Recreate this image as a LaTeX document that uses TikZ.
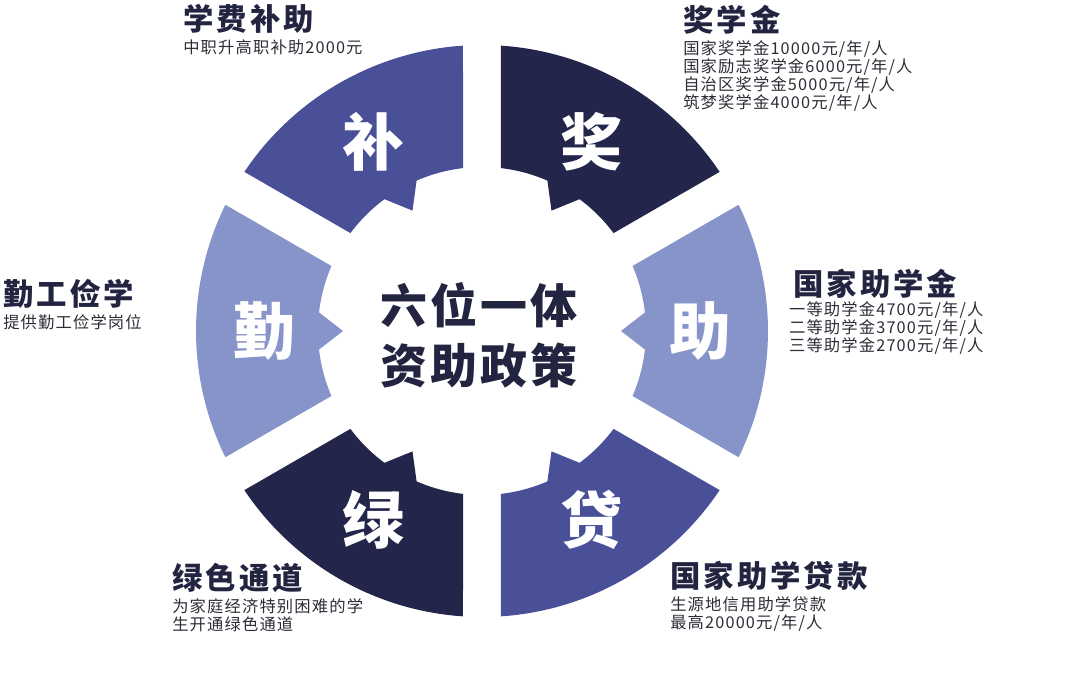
\documentclass[tikz,border=0pt]{standalone}
\usepackage{fontspec}
\usetikzlibrary{positioning}
\usepackage{xcolor}
\newfontfamily\cjk{Noto Sans CJK SC}
\newfontfamily\cjkhub[LetterSpace=7]{Noto Sans CJK SC}
\newfontfamily\cjkwide[LetterSpace=10]{Noto Sans CJK SC}
\newfontfamily\cjksub[LetterSpace=7]{Noto Sans CJK SC}
\definecolor{ringnavy}{RGB}{35,38,74}
\definecolor{ringblue}{RGB}{73,80,152}
\definecolor{ringlight}{RGB}{134,148,201}
\definecolor{inknavy}{RGB}{34,36,64}
\definecolor{inkgray}{RGB}{45,45,55}
\tikzset{
    seg/.style={
        fill=#1,draw=none
    },
    bigchar/.style={
        text=white,inner sep=0pt,
        font=\cjk\bfseries\fontsize{44pt}{44pt}\selectfont
    },
    hub/.style={
        text=inknavy,align=center,inner sep=0pt,
        font=\cjkhub\bfseries\fontsize{33.4pt}{42.7pt}\selectfont
    },
    headline/.style={
        anchor=west,inner sep=0pt,text=inknavy,
        font=\cjkwide\bfseries\fontsize{21.6pt}{24pt}\selectfont
    },
    detail/.style={
        align=left,inner sep=0pt,text=inkgray,
        font=\cjksub\fontsize{11.6pt}{12.8pt}\selectfont
    }
}

\begin{document}
\begin{tikzpicture}[x=0.025cm,y=0.025cm]

\useasboundingbox (-482,-366) rectangle (598,331);

% ring of six segments, each with a small pointer toward the hub
\foreach \m/\col/\ch/\nm in {120/ringblue/补/bu, 60/ringnavy/奖/jiang,
    0/ringlight/助/zhu, -60/ringblue/贷/dai, -120/ringnavy/绿/lv,
    180/ringlight/勤/qin}{
  \fill[seg=\col] ({\m+26.19}:286)
    arc[start angle=\m+26.19, end angle=\m-26.19, radius=286]
    -- ({\m-23.35}:164)
    arc[start angle=\m-23.35, end angle=\m-6.5, radius=164]
    -- (\m:139) -- ({\m+6.5}:164)
    arc[start angle=\m+6.5, end angle=\m+23.35, radius=164]
    -- cycle;
  \node[bigchar] (\nm) at (\m:218) {\ch};
}

\node[hub] (center) at (-3,-4) {六位一体\\资助政策};

% labels round the ring
\node[headline] (t-bu) at (-299,312) {学费补助};
\node[detail,below right=4pt and 0pt of t-bu.south west]
(d-bu){中职升高职补助2000元};

\node[headline] (t-jiang) at (201,311) {奖学金};
\node[detail,below right=4pt and 0pt of t-jiang.south west]
(d-jiang){国家奖学金10000元/年/人\\国家励志奖学金6000元/年/人\\
自治区奖学金5000元/年/人\\筑梦奖学金4000元/年/人};

\node[headline] (t-zhu) at (311,47) {国家助学金};
\node[detail,below right=2pt and -3pt of t-zhu.south west]
(d-zhu){一等助学金4700元/年/人\\二等助学金3700元/年/人\\
三等助学金2700元/年/人};

\node[headline] (t-qin) at (-479,37) {勤工俭学};
\node[detail,below right=4pt and 0pt of t-qin.south west]
(d-qin){提供勤工俭学岗位};

\node[headline] (t-lv) at (-310,-247) {绿色通道};
\node[detail,below right=4pt and 0pt of t-lv.south west]
(d-lv){为家庭经济特别困难的学\\生开通绿色通道};

\node[headline] (t-dai) at (188,-245) {国家助学贷款};
\node[detail,below right=4pt and 0pt of t-dai.south west]
(d-dai){生源地信用助学贷款\\最高20000元/年/人};

\end{tikzpicture}
\end{document}
